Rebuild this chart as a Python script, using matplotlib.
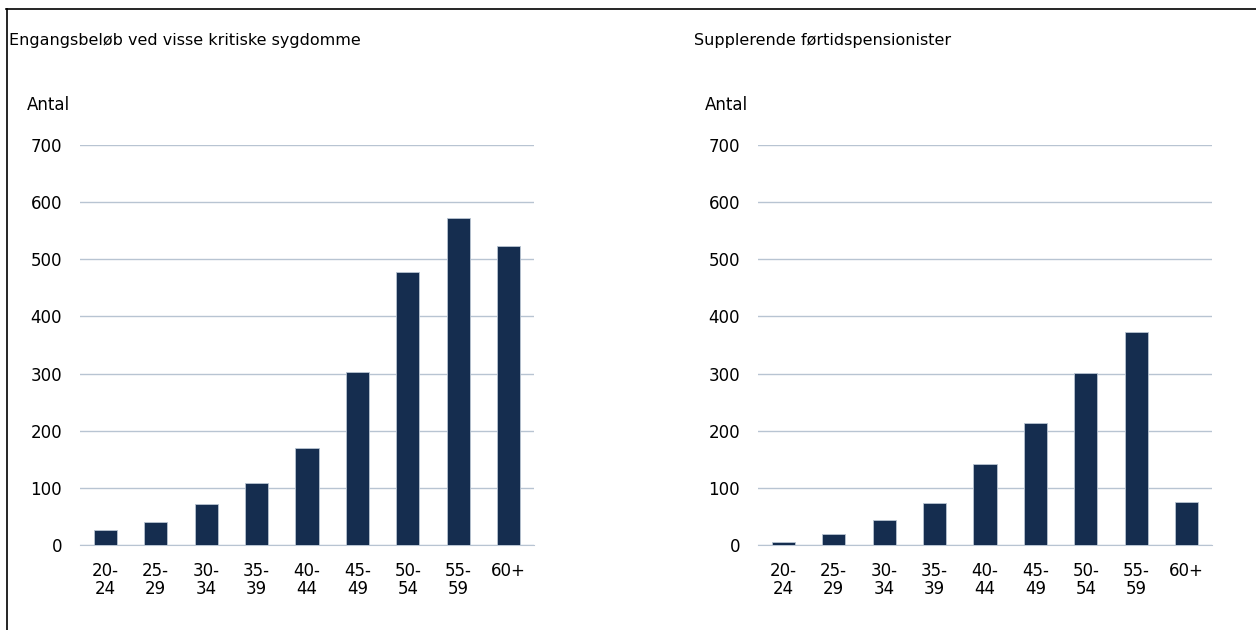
import matplotlib
matplotlib.use("Agg")
import matplotlib.pyplot as plt
from matplotlib.lines import Line2D

plt.rcParams['font.family'] = ['DejaVu Sans']

age_groups = ["20-\n24", "25-\n29", "30-\n34", "35-\n39", "40-\n44",
              "45-\n49", "50-\n54", "55-\n59", "60+"]
kritisk_sygdom = [26, 41, 72, 108, 169, 302, 477, 572, 523]
foertidspension = [6, 20, 44, 74, 142, 214, 301, 372, 75]

titles = ["Engangsbeløb ved visse kritiske sygdomme", "Supplerende førtidspensionister"]
y_label = "Antal"

bar_color = "#152d4f"
grid_color = "#b8c4d2"

W, H = 1256, 630
fig = plt.figure(figsize=(W / 100, H / 100), dpi=100)

panels = [
    (kritisk_sygdom, 80, 9, 27),
    (foertidspension, 758, 694, 705),
]

for (values, ax_left, title_x, label_x), title in zip(panels, titles):
    ax = fig.add_axes([ax_left / W, (H - 545) / H, 454 / W, 400 / H])
    x = range(len(age_groups))
    ax.bar(x, values, width=0.46, color=bar_color, edgecolor=grid_color,
           linewidth=0.6, zorder=3)
    ax.set_xlim(-0.5, len(age_groups) - 0.5)
    ax.set_ylim(0, 700)
    ax.set_yticks(range(0, 701, 100))
    ax.set_xticks(list(x))
    ax.set_xticklabels(age_groups, linespacing=1.05)
    ax.grid(axis="y", color=grid_color, linewidth=1.0, zorder=0)
    for s in ["top", "right", "left"]:
        ax.spines[s].set_visible(False)
    ax.spines["bottom"].set_color(grid_color)
    ax.tick_params(axis="both", length=0, labelsize=12)
    ax.tick_params(axis="y", pad=13)
    ax.tick_params(axis="x", pad=12)

    fig.text(title_x / W, 1 - 41 / H, title, fontsize=11.5, ha="left", va="center")
    fig.text(label_x / W, 1 - 105 / H, y_label, fontsize=12, ha="left", va="center")

# frame lines top and left
fig.add_artist(Line2D([6 / W, 1], [1 - 9 / H, 1 - 9 / H], color="black", linewidth=1.2))
fig.add_artist(Line2D([7 / W, 7 / W], [0, 1 - 9 / H], color="black", linewidth=1.2))

fig.savefig("out.png", dpi=100)
